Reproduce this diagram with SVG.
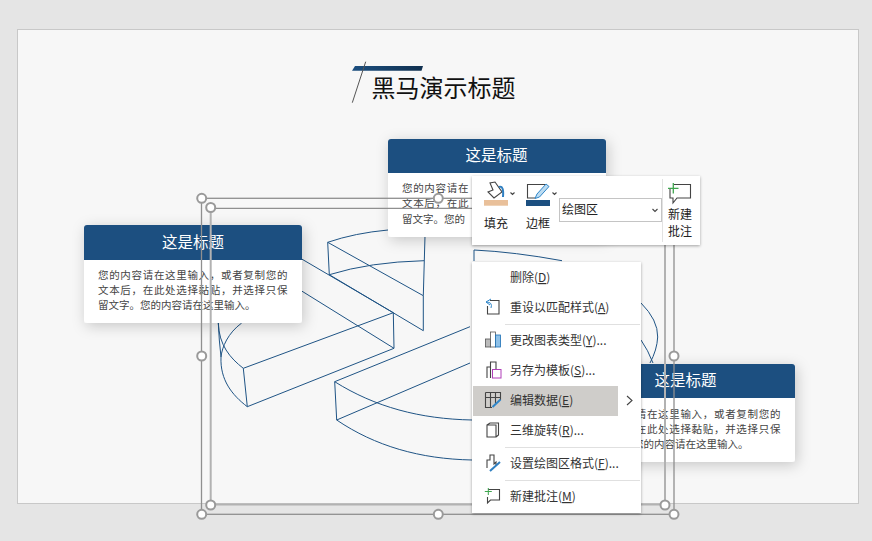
<svg xmlns="http://www.w3.org/2000/svg" width="872" height="541" viewBox="0 0 872 541">
<style>
text{font-family:"Noto Sans CJK SC","Noto Sans",sans-serif}
.ct{font-size:15.5px;fill:#fff;text-anchor:middle}
.cb{font-size:10.5px;fill:#444;letter-spacing:.68px}
.cl{font-size:10.5px;fill:#444}
.hd{fill:#1c4f80}
.pie{fill:none;stroke:#1f5485;stroke-width:1}
.so{fill:none;stroke:#8f8f8f;stroke-width:1.3}
.si{fill:none;stroke:#b2b2b2;stroke-width:2}
.h{fill:#fff;stroke:#9a9a9a;stroke-width:2}
.m{font-size:12px;fill:#333}
.t{font-size:12px;fill:#222}
.sep{stroke:#e0e0e0;stroke-width:1}
.ic{fill:none;stroke:#444;stroke-width:1.1}
.u{text-decoration:underline}
</style>
<defs>
<linearGradient id="bar" x1="0" x2="1" y1="0" y2="0"><stop offset="0" stop-color="#1c4f80"/><stop offset="1" stop-color="#10304f"/></linearGradient>
<filter id="sh" x="-20%" y="-30%" width="140%" height="160%"><feDropShadow dx="2" dy="3" stdDeviation="7" flood-color="#000" flood-opacity=".2"/></filter>
<filter id="ms" x="-10%" y="-10%" width="120%" height="120%"><feDropShadow dx="0" dy="1" stdDeviation="1.5" flood-color="#000" flood-opacity=".35"/></filter>
</defs>
<rect width="872" height="541" fill="#e5e5e5"/>
<rect x="17.5" y="29.5" width="841" height="474" fill="#f7f7f7" stroke="#c8c8c8"/>
<g id="title">
<path d="M352 70.700L355 66H423L421.500 70.700Z" fill="url(#bar)"/>
<path d="M365.700 61.700L352.300 102.700" stroke="#555" stroke-width="1" fill="none"/>
<text x="371.500" y="97" font-size="24" fill="#111">黑马演示标题</text>
</g>
<g id="connectors" class="pie">
<path d="M327.700 242.300Q355 233 388 230M327.700 242.300L329.300 274.700M327.700 242.300L423.300 295.700M329.300 274.700Q370 262 424 260.700M329.300 274.700L423.300 330.700M423.300 295.700V330.700M425 236L423.300 295.700"/>
<path d="M301.700 259L393.300 312.700M301.700 291L394 348.300M393.300 312.700L394 348.300M393.300 312.700L243.300 368.300M394 348.300L247.300 406.700M243.300 368.300L247.300 406.700M218.300 323C219 345 230 358 243.300 368.300M241.700 323C228 333 222 347 221 357C220 380 232 395 247.300 406.700M218.300 323Q219 340 221 357"/>
<path d="M334.700 381.700L470 326.700M336.700 420L470 363M334.700 381.700L336.700 420M334.700 381.700C375 407 420 419 472 420M336.700 420C375 446 420 459 472 460"/>
<path d="M474 250V261M474 250Q515 252 562 260.700M641 303Q658 320 657.700 337Q657 350 650 363M641 340Q648 350 653 363"/>
</g>
<g id="card-left">
<rect x="84" y="225" width="218" height="98" rx="3" fill="#fff" filter="url(#sh)"/>
<path class="hd" d="M84 260V228a3 3 0 0 1 3-3H299a3 3 0 0 1 3 3V260Z"/>
<text class="ct" x="193" y="248">这是标题</text>
<text class="cb" x="98" y="278.500">您的内容请在这里输入，或者复制您的</text>
<text class="cb" x="98" y="293.500">文本后，在此处选择黏贴，并选择只保</text>
<text class="cl" x="98" y="309">留文字。您的内容请在这里输入。</text>
</g>
<g id="card-top">
<rect x="388" y="139" width="218" height="98" rx="3" fill="#fff" filter="url(#sh)"/>
<path class="hd" d="M388 173V142a3 3 0 0 1 3-3H603a3 3 0 0 1 3 3V173Z"/>
<text class="ct" x="496.500" y="161">这是标题</text>
<text class="cb" x="402" y="192">您的内容请在</text>
<text class="cb" x="402" y="207">文本后，在此</text>
<text class="cl" x="402" y="223">留文字。您的</text>
</g>
<g id="card-right">
<rect x="577" y="364" width="218" height="98" rx="3" fill="#fff" filter="url(#sh)"/>
<path class="hd" d="M577 398V367a3 3 0 0 1 3-3H792a3 3 0 0 1 3 3V398Z"/>
<text class="ct" x="685.500" y="386">这是标题</text>
<text class="cb" x="591" y="417.500">您的内容请在这里输入，或者复制您的</text>
<text class="cb" x="591" y="432.500">文本后，在此处选择黏贴，并选择只保</text>
<text class="cl" x="591" y="448">留文字。您的内容请在这里输入。</text>
</g>
<g id="selection">
<rect class="so" x="201.500" y="198.300" width="472.500" height="316"/>
<path class="so" d="M210.700 208.300H665"/>
<path class="si" d="M210.700 208.300V504.500H665V208.300"/>
<circle class="h" cx="201.700" cy="198.300" r="4.500"/><circle class="h" cx="438.300" cy="198.300" r="4.500"/><circle class="h" cx="674" cy="198.300" r="4.500"/>
<circle class="h" cx="201.700" cy="356" r="4.500"/><circle class="h" cx="674" cy="356" r="4.500"/>
<circle class="h" cx="201.700" cy="514.300" r="4.500"/><circle class="h" cx="438.300" cy="514.300" r="4.500"/><circle class="h" cx="674" cy="514.300" r="4.500"/>
<circle class="h" cx="210.700" cy="207.500" r="4.500"/><circle class="h" cx="210.700" cy="505" r="4.500"/><circle class="h" cx="665" cy="505" r="4.500"/>
</g>
<g id="toolbar">
<rect x="472" y="176" width="228" height="69" fill="#fff" filter="url(#ms)"/>
<path class="ic" d="M493 190L490 183L495 182L502 192L494 198L488 192Z"/>
<path d="M499 187Q504 185 503 197" fill="none" stroke="#2f7fc1" stroke-width="2"/>
<rect x="484" y="200" width="24" height="5.700" fill="#e9c09a"/>
<path class="ic" d="M510.500 192.500L512.500 194.500L514.500 192.500M552.500 192.500L554.500 194.500L556.500 192.500"/>
<path class="ic" d="M546 184.500H527.500V198H535"/>
<path d="M537 194L546 184L549 186.500L539.500 197L535 198.500Z" fill="#bcdcf2" stroke="#2f86c9" stroke-width="1"/>
<rect x="526" y="200" width="24" height="6" fill="#1c4f80"/>
<text class="t" x="484" y="228">填充</text>
<text class="t" x="526" y="228">边框</text>
<rect x="559.500" y="198.500" width="102" height="23" fill="#fff" stroke="#c4c4c4"/>
<text class="t" x="562" y="214" fill="#444">绘图区</text>
<path class="ic" d="M652.500 209L655 211.500L657.500 209"/>
<path d="M662.500 179V242" stroke="#e2e2e2"/>
<path class="ic" d="M674 184.500H690.500V198H677L673 203V198H670V189"/>
<path d="M673.300 183V193.500M668 188.300H678.500" stroke="#3fa64f" stroke-width="1.300"/>
<text class="t" x="668" y="219">新建</text>
<text class="t" x="668" y="236">批注</text>
</g>
<g id="menu">
<rect x="472" y="262" width="169" height="251" fill="#fff" filter="url(#ms)"/>
<rect x="473" y="386" width="145" height="30" fill="#cfcdca"/>
<path class="sep" d="M505 324.500H640M505 447.500H640M505 480.500H640"/>
<text class="m" x="510" y="282">删除(<tspan class="u">D</tspan>)</text>
<text class="m" x="510" y="312">重设以匹配样式(<tspan class="u">A</tspan>)</text>
<text class="m" x="510" y="345">更改图表类型(<tspan class="u">Y</tspan>)...</text>
<text class="m" x="510" y="375">另存为模板(<tspan class="u">S</tspan>)...</text>
<text class="m" x="510" y="405">编辑数据(<tspan class="u">E</tspan>)</text>
<text class="m" x="510" y="435">三维旋转(<tspan class="u">R</tspan>)...</text>
<text class="m" x="510" y="468">设置绘图区格式(<tspan class="u">F</tspan>)...</text>
<text class="m" x="510" y="501">新建批注(<tspan class="u">M</tspan>)</text>
<path class="ic" d="M627 396L632 400.500L627 405"/>
<path class="ic" d="M490 300.500H499V314H487.500V306"/><path d="M491 299L486 302L490 305M486 302Q493 302 491 308" fill="none" stroke="#2f86c9" stroke-width="1"/>
<rect x="485.500" y="339" width="5" height="8" fill="#bbb" stroke="#555" stroke-width=".8"/><rect x="490.500" y="332" width="5" height="15" fill="#fff" stroke="#555" stroke-width=".8"/><rect x="495.500" y="335" width="5" height="12" fill="#8fc1e8" stroke="#1c6fb5" stroke-width=".8"/>
<path class="ic" d="M487 378V367H490.500V362H496V369M490.500 367V378"/><rect x="492.500" y="369.500" width="8.500" height="8.500" fill="#fff" stroke="#b03fb8"/>
<path class="ic" d="M485.500 392.500H500.500V400M485.500 392.500V407.500H492M485.500 397.500H500.500M490.500 392.500V407.500M495.500 392.500V403"/><path d="M492.500 407L500.500 399.500" stroke="#2f86c9" stroke-width="2"/>
<path class="ic" d="M487 425H496V437H487ZM487 425L490 423H498.500V435L496 437"/>
<path class="ic" d="M487 468V460H490V455H494V464L496 462V465"/><path d="M490 471L500 462" stroke="#2f7fc1" stroke-width="2"/>
<path class="ic" d="M488 489.500H499.500V500H490.500L487.500 503V497"/><path d="M488.300 488V495M484.800 491.500H491.800" stroke="#3fa64f"/>
</g>
</svg>
